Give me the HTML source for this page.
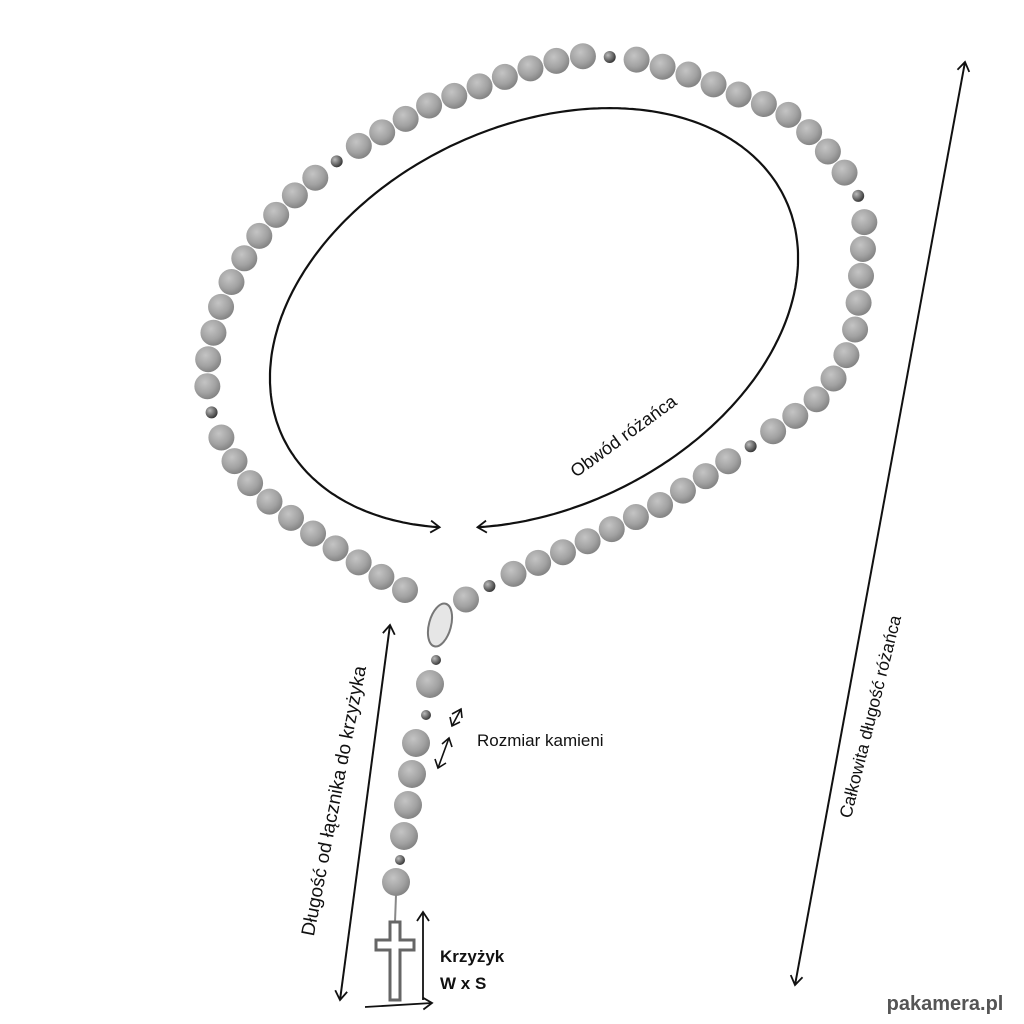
<!DOCTYPE html>
<html><head><meta charset="utf-8"><style>
html,body{margin:0;padding:0;background:#fff;}
svg{display:block;font-family:"Liberation Sans","DejaVu Sans",sans-serif;}
</style></head><body>
<svg id="s" width="1024" height="1024" viewBox="0 0 1024 1024" xmlns="http://www.w3.org/2000/svg">
<defs>
<radialGradient id="g" cx="40%" cy="35%" r="70%">
<stop offset="0" stop-color="#c4c4c4"/><stop offset="0.6" stop-color="#a2a2a2"/><stop offset="1" stop-color="#7e7e7e"/>
</radialGradient>
<radialGradient id="h" cx="35%" cy="35%" r="70%">
<stop offset="0" stop-color="#bbb"/><stop offset="1" stop-color="#333"/>
</radialGradient>
<marker id="ah" markerWidth="14" markerHeight="14" refX="10" refY="7" orient="auto-start-reverse" markerUnits="userSpaceOnUse">
<path d="M1,1 L10,7 L1,13" fill="none" stroke="#111" stroke-width="1.8"/>
</marker>
</defs>
<g id="beads"></g>
<ellipse cx="440" cy="625" rx="11" ry="22" fill="#e6e6e6" stroke="#777" stroke-width="2" transform="rotate(15 440 625)"/>
<g id="pend"></g>
<path d="M390,922 h10 v18 h14 v10 h-14 v50 h-10 v-50 h-14 v-10 h14 z" fill="#fff" stroke="#666" stroke-width="3"/>
<path id="oval" d="" fill="none" stroke="#111" stroke-width="2.2" marker-start="url(#ah)" marker-end="url(#ah)"/>
<line x1="965" y1="62" x2="795" y2="985" stroke="#111" stroke-width="2" marker-start="url(#ah)" marker-end="url(#ah)"/>
<line x1="390" y1="625" x2="340" y2="1000" stroke="#111" stroke-width="2" marker-start="url(#ah)" marker-end="url(#ah)"/>
<g stroke="#111" stroke-width="1.6" fill="none">
<line x1="452" y1="726" x2="461" y2="709"/>
<path d="M452,714 L461,709 L462,718"/><path d="M450,717 L452,726 L460,722"/>
<line x1="438" y1="768" x2="449" y2="738"/>
<path d="M442,744 L449,738 L452,747"/><path d="M435,759 L438,768 L446,763"/>
</g>
<line x1="423" y1="1000" x2="423" y2="912" stroke="#111" stroke-width="1.8" marker-end="url(#ah)"/>
<line x1="365" y1="1007" x2="432" y2="1003" stroke="#111" stroke-width="1.8" marker-end="url(#ah)"/>
<text x="627" y="441" font-size="18" fill="#111" text-anchor="middle" transform="rotate(-36 627 441)">Obwód różańca</text>
<text x="477" y="746" font-size="17" fill="#111">Rozmiar kamieni</text>
<text x="440" y="962" font-size="17" font-weight="bold" fill="#111">Krzyżyk</text>
<text x="440" y="989" font-size="17" font-weight="bold" fill="#111">W x S</text>
<text x="876" y="718" font-size="17.5" fill="#111" text-anchor="middle" transform="rotate(-76 876 718)">Całkowita długość różańca</text>
<text x="340" y="802" font-size="19" fill="#111" text-anchor="middle" transform="rotate(-79 340 802)">Długość od łącznika do krzyżyka</text>
<text x="945" y="1010" font-size="20" font-weight="bold" fill="#555" text-anchor="middle">pakamera.pl</text>
</svg>
<script>
var pts=[[405,590],[378,575],[355,560],[330,545],[305,528],[280,510],[255,490],[235,462],[220,435],[207,400],[208,360],[215,325],[225,295],[240,265],[256,240],[276,215],[300,190],[330,166],[360,145],[395,125],[430,105],[470,90],[510,75],[550,62],[590,55],[640,60],[690,75],[740,95],[785,112],[815,137],[840,165],[858,195],[865,225],[862,260],[860,292],[855,330],[843,365],[822,395],[790,420],[760,440],[730,460],[700,480],[660,505],[620,525],[580,545],[540,562],[500,580],[465,600]];
var ns="http://www.w3.org/2000/svg",g=document.getElementById("beads");
function c(p,x,y,r,f){var e=document.createElementNS(ns,"circle");e.setAttribute("cx",x);e.setAttribute("cy",y);e.setAttribute("r",r);e.setAttribute("fill",f);p.appendChild(e);}
var L=[0];for(var i=1;i<pts.length;i++){L.push(L[i-1]+Math.hypot(pts[i][0]-pts[i-1][0],pts[i][1]-pts[i-1][1]));}
var tot=L[L.length-1],step=27,k=0;
for(var d=0;d<=tot;d+=step){var j=1;while(j<L.length-1&&L[j]<d)j++;var t=(d-L[j-1])/(L[j]-L[j-1]);
var x=pts[j-1][0]+t*(pts[j][0]-pts[j-1][0]),y=pts[j-1][1]+t*(pts[j][1]-pts[j-1][1]);
if(k%11==10){c(g,x,y,6,"url(#h)");}else c(g,x,y,13,"url(#g)");k++;}
var p=document.getElementById("pend");
c(p,436,660,5,"url(#h)");c(p,430,684,14,"url(#g)");c(p,426,715,5,"url(#h)");
c(p,416,743,14,"url(#g)");c(p,412,774,14,"url(#g)");c(p,408,805,14,"url(#g)");c(p,404,836,14,"url(#g)");
c(p,400,860,5,"url(#h)");c(p,396,882,14,"url(#g)");
var ln=document.createElementNS(ns,"line");ln.setAttribute("x1",396);ln.setAttribute("y1",895);ln.setAttribute("x2",395);ln.setAttribute("y2",922);ln.setAttribute("stroke","#888");ln.setAttribute("stroke-width","2");p.appendChild(ln);
var cx=534,cy=318,a=278,b=191,th=-25.5*Math.PI/180;
function P(t){var ex=a*Math.cos(t),ey=b*Math.sin(t);return [cx+ex*Math.cos(th)-ey*Math.sin(th),cy+ex*Math.sin(th)+ey*Math.cos(th)];}
var tb=0,by=-1;for(var t=0;t<Math.PI*2;t+=0.002){var q=P(t);if(q[1]>by){by=q[1];tb=t;}}
var dl=0.075,t1=tb+dl,t2=tb-dl+Math.PI*2,n=400,ds="";
for(var i=0;i<=n;i++){var q=P(t1+(t2-t1)*i/n);ds+=(i?"L":"M")+q[0].toFixed(1)+","+q[1].toFixed(1)+" ";}
document.getElementById("oval").setAttribute("d",ds);
</script>
</body></html>
